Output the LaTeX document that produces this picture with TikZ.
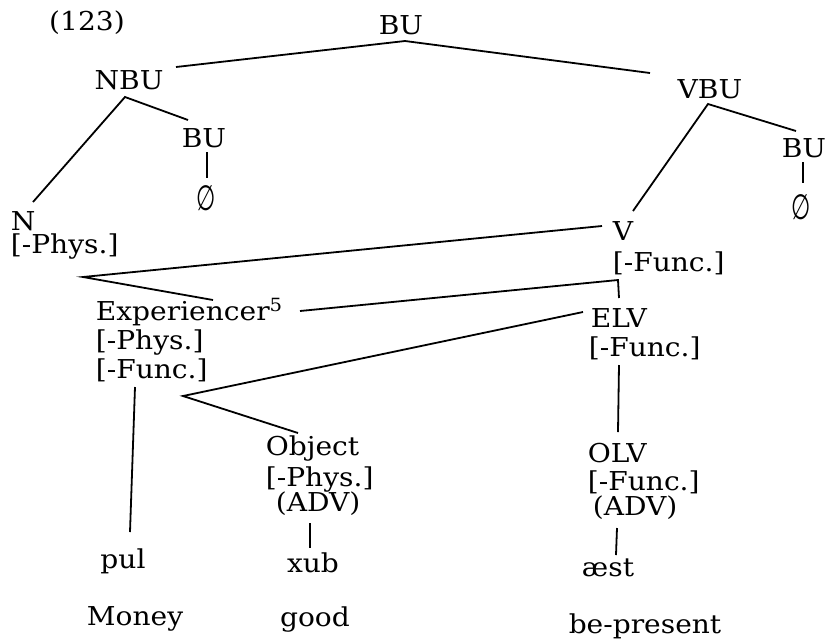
\documentclass[tikz,border=0pt]{standalone}
\usepackage{graphicx}
\usepackage{fontspec}
\setmainfont{DejaVu Serif}[FakeStretch=1.08]
\newfontfamily\emptysetfont{DejaVu Sans}

\begin{document}
\begin{tikzpicture}[x=0.5pt, y=-0.5pt, line width=0.9pt,
    every node/.style={inner sep=0pt, font=\fontsize{13}{15}\selectfont},
    word/.style={anchor=base},
    feat/.style={anchor=base west},
    empty/.style={font=\emptysetfont\fontsize{13}{15}\selectfont}]
    \useasboundingbox (0,0) rectangle (826,639);
    % Labels of the tree:
    \node[word] (ex) at (87,30) {(123)};
    \node[word] (bu) at (401,34) {BU};
    \node[word] (nbu) at (129,89) {NBU};
    \node[word] (bun) at (204,147) {BU};
    \node[empty] (nulln) at (206,198) {\scalebox{0.85}[1.35]{∅}};
    \node[word] (vbu) at (710,98) {VBU};
    \node[word] (buv) at (804,157) {BU};
    \node[empty] (nullv) at (801,207) {\scalebox{0.85}[1.35]{∅}};
    \node[feat] (n) at (10,230) {N};
    \node[feat] (nphys) at (10,253) {{[}-Phys.]};
    \node[feat] (v) at (612,240) {V};
    \node[feat] (vfunc) at (612,271) {{[}-Func.]};
    \node[feat] (exp) at (95,320) {Experiencer\textsuperscript{5}};
    \node[feat] (expphys) at (95,349) {{[}-Phys.]};
    \node[feat] (expfunc) at (95,378) {{[}-Func.]};
    \node[feat] (elv) at (590,327) {ELV};
    \node[feat] (elvfunc) at (588,356) {{[}-Func.]};
    \node[feat] (obj) at (265,455) {Object};
    \node[feat] (objphys) at (265,486) {{[}-Phys.]};
    \node[feat] (objadv) at (275,511) {(ADV)};
    \node[feat] (olv) at (587,462) {OLV};
    \node[feat] (olvfunc) at (587,490) {{[}-Func.]};
    \node[feat] (olvadv) at (592,515) {(ADV)};
    \node[word] (pul) at (123,568) {pul};
    \node[word] (xub) at (313,572) {xub};
    \node[word] (aest) at (608,576) {æst};
    \node[word] (money) at (135,625) {Money};
    \node[word] (good) at (315,626) {good};
    \node[word] (bepresent) at (645,633) {be-present};
    % Branches:
    \draw ([shift={(47,-22)}]nbu.base) -- ([shift={(4,7)}]bu.base) -- ([shift={(-60,-25)}]vbu.base);
    \draw ([shift={(23,-28)}]n.base west) -- ([shift={(-4,8)}]nbu.base) -- ([shift={(-16,-27)}]bun.base);
    \draw ([shift={(3,5)}]bun.base) -- ([shift={(1,-20)}]nulln.center);
    \draw ([shift={(21,-29)}]v.base west) -- ([shift={(-2,6)}]vbu.base) -- ([shift={(-8,-26)}]buv.base);
    \draw ([shift={(-1,5)}]buv.base) -- ([shift={(2,-24)}]nullv.center);
    \draw ([shift={(-10,-14)}]v.base west) -- ([shift={(73,24)}]nphys.base west) -- ([shift={(118,-20)}]exp.base west);
    \draw ([shift={(205,-9)}]exp.base west) -- ([shift={(6,9)}]vfunc.base west) -- ([shift={(29,-29)}]elv.base west);
    \draw ([shift={(-7,-15)}]elv.base west) -- ([shift={(88,18)}]expfunc.base west) -- ([shift={(33,-22)}]obj.base west);
    \draw ([shift={(40,9)}]expfunc.base west) -- ([shift={(7,-36)}]pul.base);
    \draw ([shift={(35,12)}]objadv.base west) -- ([shift={(-3,-24)}]xub.base);
    \draw ([shift={(31,9)}]elvfunc.base west) -- ([shift={(31,-30)}]olv.base west);
    \draw ([shift={(25,13)}]olvadv.base west) -- ([shift={(8,-21)}]aest.base);
\end{tikzpicture}
\end{document}
